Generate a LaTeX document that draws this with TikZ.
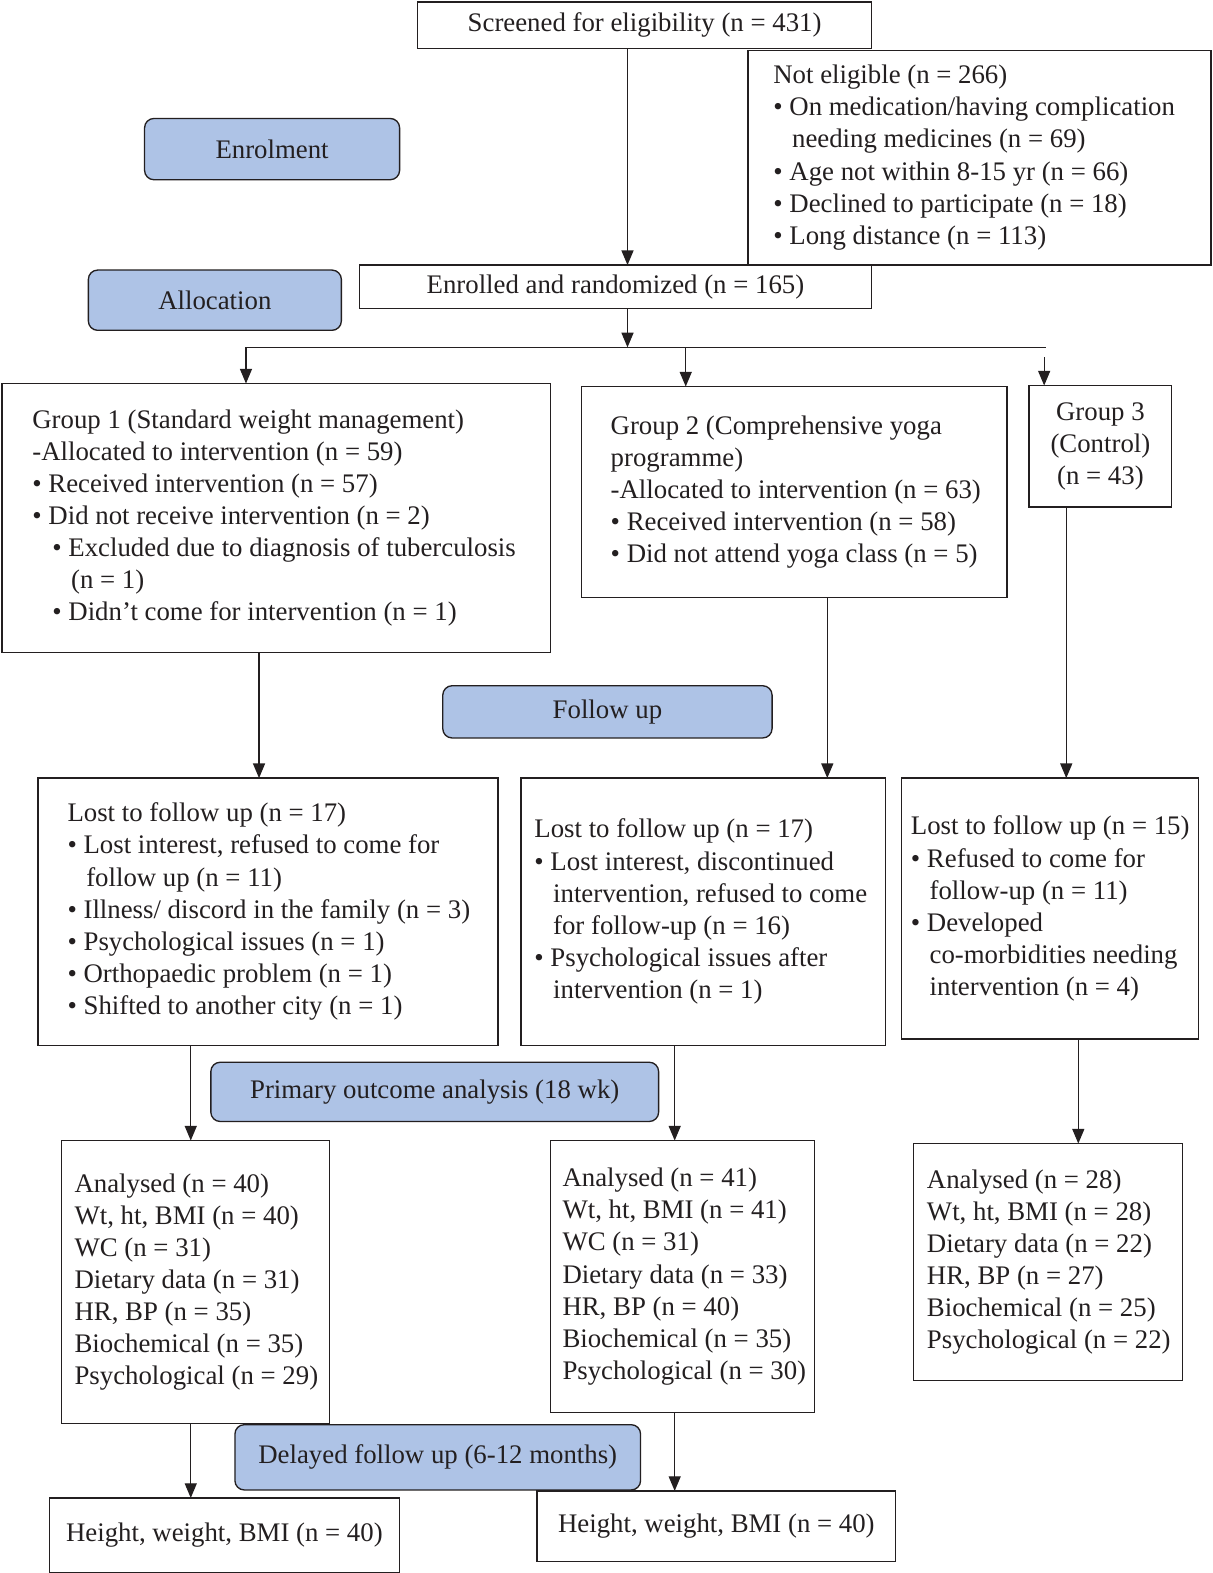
\documentclass[tikz,border=0pt]{standalone}
\usepackage{fontspec}
\setmainfont{Liberation Serif}
\usetikzlibrary{arrows.meta}
\definecolor{bluebox}{HTML}{AEC3E6}
\definecolor{ink}{HTML}{231F20}
\newcommand\diagfont{\fontsize{20.1pt}{24.1pt}\selectfont}
\newcommand\bul{\textbullet\ }
\newcommand\cont{\hphantom{\textbullet\ }\hspace*{2pt}}
\newcommand\sub{\hspace*{15pt}}
\begin{document}
\begin{tikzpicture}[x=0.753pt,y=-0.753pt,
  box/.style={draw=ink, line width=1pt, outer sep=0pt, inner sep=0pt, font=\diagfont, text=ink, align=center},
  sz/.style 2 args={minimum width={#1*0.753pt}, minimum height={#2*0.753pt}},
  phase/.style={box, fill=bluebox, rounded corners=7pt},
  txt/.style={anchor=west, align=left, inner sep=0pt, font=\diagfont, text=ink},
  arr/.style={draw=ink, line width=1pt, -{Triangle[length=11pt,width=9pt]}},
  ln/.style={draw=ink, line width=1pt}]
\useasboundingbox (0,0) rectangle (1207.17,1566.73);
\fill[white] (0,0) rectangle (1207.17,1566.73);

% column coordinates
\coordinate (c625) at (625,0);
\coordinate (c245) at (245,0);
\coordinate (c683) at (683,0);
\coordinate (c1040) at (1040,0);
\coordinate (c258) at (258,0);
\coordinate (c824) at (824,0);
\coordinate (c1062) at (1062,0);
\coordinate (c190) at (190,0);
\coordinate (c672) at (672,0);
\coordinate (c1074) at (1074,0);

% boxes
\node[box, sz={452}{46}] (scr) at (642,25) {Screened for eligibility (n = 431)};
\node[box, sz={461}{214}] (noel) at (975.5,157) {};
\node[txt] (tnoel) at ([xshift={25*0.753pt}]noel.west) {Not eligible (n = 266)\\
\bul On medication/having complication\\
\cont needing medicines (n = 69)\\
\bul Age not within 8-15 yr (n = 66)\\
\bul Declined to participate (n = 18)\\
\bul Long distance (n = 113)};

\node[phase, sz={254}{61}] (enrol) at (271,148.5) {Enrolment};
\node[phase, sz={252}{60}] (alloc) at (214,299) {Allocation};
\node[box, sz={510}{43}] (enr) at (613,285.5) {Enrolled and randomized (n = 165)};

\node[box, sz={546}{268}] (g1) at (275,516) {};
\node[txt] (tg1) at ([xshift={30*0.753pt}]g1.west) {Group 1 (Standard weight management)\\
-Allocated to intervention (n = 59)\\
\bul Received intervention (n = 57)\\
\bul Did not receive intervention (n = 2)\\
\sub\bul Excluded due to diagnosis of tuberculosis\\
\sub\cont (n = 1)\\
\sub\bul Didn’t come for intervention (n = 1)};

\node[box, sz={424}{210}] (g2) at (791,490) {};
\node[txt] (tg2) at ([xshift={29*0.753pt}]g2.west) {Group 2 (Comprehensive yoga\\
programme)\\
-Allocated to intervention (n = 63)\\
\bul Received intervention (n = 58)\\
\bul Did not attend yoga class (n = 5)};

\node[box, sz={142}{121}] (g3) at (1096,444.5) {Group 3\\(Control)\\(n = 43)};

\node[phase, sz={328}{52}] (fu) at (605,709) {Follow up};

\node[box, sz={458}{266}] (l1) at (267,908) {};
\node[txt] (tl1) at ([xshift={29*0.753pt}]l1.west) {Lost to follow up (n = 17)\\
\bul Lost interest, refused to come for\\
\cont follow up (n = 11)\\
\bul Illness/ discord in the family (n = 3)\\
\bul Psychological issues (n = 1)\\
\bul Orthopaedic problem (n = 1)\\
\bul Shifted to another city (n = 1)};

\node[box, sz={363}{266}] (l2) at (700.5,908) {};
\node[txt] (tl2) at ([xshift={13*0.753pt}]l2.west) {Lost to follow up (n = 17)\\
\bul Lost interest, discontinued\\
\cont intervention, refused to come\\
\cont for follow-up (n = 16)\\
\bul Psychological issues after\\
\cont intervention (n = 1)};

\node[box, sz={296}{260}] (l3) at (1046,905) {};
\node[txt] (tl3) at ([xshift={9*0.753pt}]l3.west) {Lost to follow up (n = 15)\\
\bul Refused to come for\\
\cont follow-up (n = 11)\\
\bul Developed\\
\cont co-morbidities needing\\
\cont intervention (n = 4)};

\node[phase, sz={446}{59}] (po) at (433,1087.5) {Primary outcome analysis (18 wk)};

\node[box, sz={267}{282}] (a1) at (194.5,1277) {};
\node[txt] (ta1) at ([xshift={13*0.753pt}]a1.west) {Analysed (n = 40)\\
Wt, ht, BMI (n = 40)\\
WC (n = 31)\\
Dietary data (n = 31)\\
HR, BP (n = 35)\\
Biochemical (n = 35)\\
Psychological (n = 29)};

\node[box, sz={263}{271}] (a2) at (679.5,1271.5) {};
\node[txt] (ta2) at ([xshift={12*0.753pt}]a2.west) {Analysed (n = 41)\\
Wt, ht, BMI (n = 41)\\
WC (n = 31)\\
Dietary data (n = 33)\\
HR, BP (n = 40)\\
Biochemical (n = 35)\\
Psychological (n = 30)};

\node[box, sz={268}{236}] (a3) at (1044,1257) {};
\node[txt] (ta3) at ([xshift={13*0.753pt}]a3.west) {Analysed (n = 28)\\
Wt, ht, BMI (n = 28)\\
Dietary data (n = 22)\\
HR, BP (n = 27)\\
Biochemical (n = 25)\\
Psychological (n = 22)};

\node[phase, sz={404}{65}] (dl) at (436,1451.5) {Delayed follow up (6-12 months)};

\node[box, sz={349}{74}] (h1) at (223.5,1529) {Height, weight, BMI (n = 40)};
\node[box, sz={357}{70}] (h2) at (713.5,1520) {Height, weight, BMI (n = 40)};

% connectors
\coordinate (j) at (625,346);
\coordinate (jr) at (1042,346);
\coordinate (j3) at (1040,356);
\draw[arr] (scr.south -| c625) -- (enr.north -| c625);
\draw[arr] (enr.south -| c625) -- (j);
\draw[ln] (j -| c245) -- (jr);
\draw[arr] (j -| c245) -- (g1.north -| c245);
\draw[arr] (j -| c683) -- (g2.north -| c683);
\draw[arr] (j3) -- (g3.north -| c1040);

\draw[arr] (g1.south -| c258) -- (l1.north -| c258);
\draw[arr] (g2.south -| c824) -- (l2.north -| c824);
\draw[arr] (g3.south -| c1062) -- (l3.north -| c1062);

\draw[arr] (l1.south -| c190) -- (a1.north -| c190);
\draw[arr] (l2.south -| c672) -- (a2.north -| c672);
\draw[arr] (l3.south -| c1074) -- (a3.north -| c1074);

\draw[arr] (a1.south -| c190) -- (h1.north -| c190);
\draw[arr] (a2.south -| c672) -- (h2.north -| c672);
\end{tikzpicture}
\end{document}
